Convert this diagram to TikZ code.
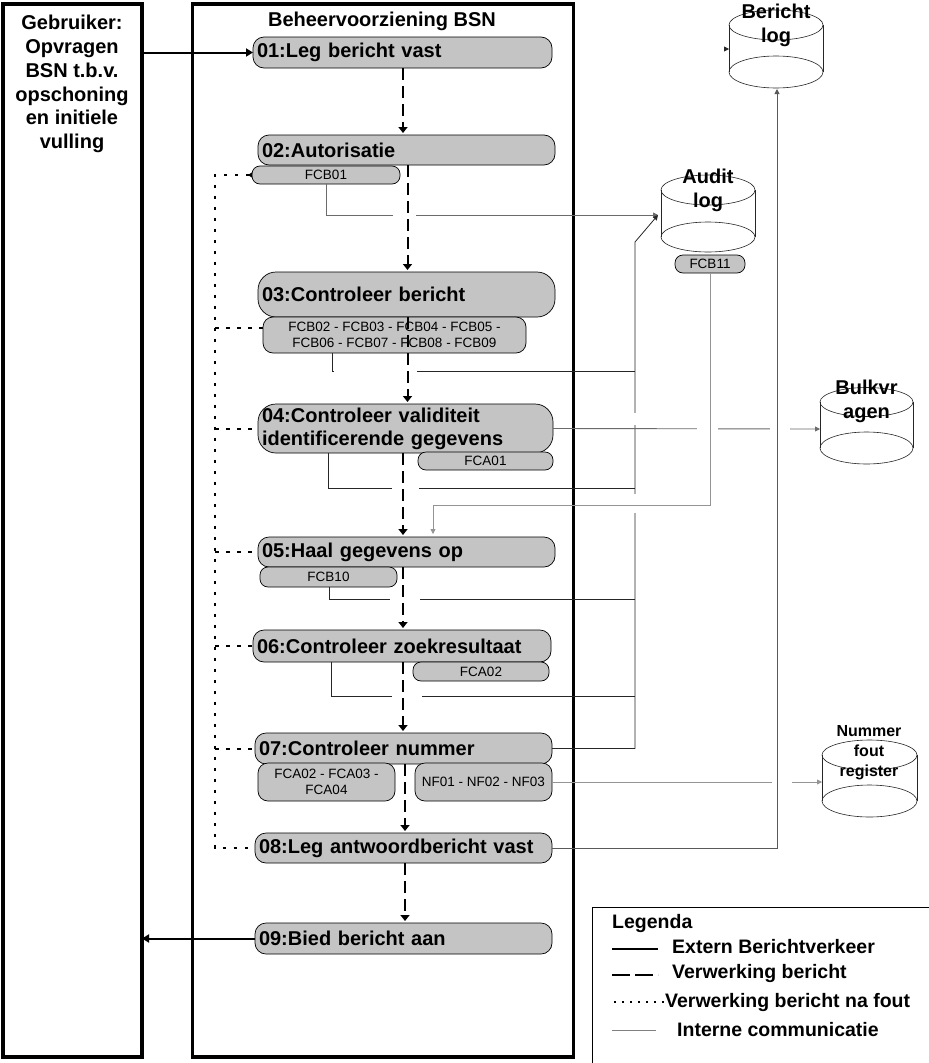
\documentclass[tikz,border=0pt]{standalone}
\usepackage{fontspec}
\setmainfont{Liberation Sans}
\usetikzlibrary{arrows.meta}
\definecolor{boxgray}{RGB}{196,196,196}
\begin{document}
\begin{tikzpicture}[x=1pt,y=-1pt,
  proc/.style={draw=black, line width=0.7pt, fill=boxgray, rounded corners=#1,
    font=\fontsize{20}{23}\selectfont\bfseries, align=left, inner xsep=4pt, inner ysep=0pt,
    anchor=north west, outer sep=0pt},
  proc/.default=11pt,
  sub/.style={draw=black, line width=0.7pt, fill=boxgray, rounded corners=#1,
    font=\fontsize{13.5}{16}\selectfont, align=center, inner sep=0pt,
    anchor=north west, outer sep=0pt},
  sub/.default=8pt,
  frame/.style={draw=black, line width=3.5pt, inner sep=0pt, outer sep=0pt, anchor=north west},
  ext/.style={line width=2pt, -{Triangle[width=8pt,length=7pt]}},
  flow/.style={line width=2pt, dash pattern=on 12pt off 6pt, -{Triangle[width=9pt,length=6pt]}, shorten >=2pt},
  err/.style={line width=2pt, dash pattern=on 3.5pt off 7.5pt},
  intl/.style={line width=0.8pt, draw=black!85},
  intm/.style={line width=0.9pt, draw=black!65},
  intg/.style={line width=0.9pt, draw=black!58},
  intg2/.style={line width=0.8pt, draw=black!42},
  tip/.style={-{Triangle[width=5pt,length=5pt]}},
  cyl/.style={line width=0.6pt, draw=black!85},
  dbtext/.style={font=\fontsize{20}{24}\selectfont\bfseries, align=center, inner sep=0pt},
  legtext/.style={font=\fontsize{19.5}{22}\selectfont\bfseries, anchor=west, inner sep=0pt},
]
\useasboundingbox (0,0) rectangle (929,1063);
\fill[white] (0,0) rectangle (929,1063);

% frames
\node[frame, minimum width=139pt, minimum height=1053pt] (gebr) at (3,4) {};
\node[frame, minimum width=381pt, minimum height=1053pt] (bsn) at (192.5,4) {};
\node[font=\fontsize{20}{23.8}\selectfont\bfseries, align=center, anchor=north, inner sep=0pt] (gebrt) at (72,15)
  {Gebruiker:\\Opvragen\\BSN t.b.v.\\opschoning\\en initiele\\vulling};
\node[font=\fontsize{20}{23}\selectfont\bfseries, inner sep=0pt] (title) at (382,21) {Beheervoorziening BSN};

% process steps
\node[proc, text width=291pt, minimum height=31pt] (p01) at (253,37) {01:Leg bericht vast};
\node[proc, text width=289pt, minimum height=30pt] (p02) at (258,135) {02:Autorisatie};
\node[proc=18pt, text width=289pt, minimum height=45pt] (p03) at (258,272) {03:Controleer bericht};
\node[proc=18pt, text width=287pt, minimum height=49pt] (p04) at (258,404) {04:Controleer validiteit\\identificerende gegevens};
\node[proc, text width=289pt, minimum height=30pt] (p05) at (258,537) {05:Haal gegevens op};
\node[proc, text width=290pt, minimum height=32pt] (p06) at (253,630) {06:Controleer zoekresultaat};
\node[proc, text width=289pt, minimum height=31pt] (p07) at (255,733) {07:Controleer nummer};
\node[proc, text width=289pt, minimum height=30pt] (p08) at (255,833) {08:Leg antwoordbericht vast};
\node[proc, text width=289pt, minimum height=31pt] (p09) at (255,923) {09:Bied bericht aan};

% sub boxes
\node[sub, minimum width=148pt, minimum height=18pt] (fcb01) at (252,166) {FCB01};
\node[sub=10pt, minimum width=263pt, minimum height=36pt] (fcb02) at (263,317) {FCB02 - FCB03 - FCB04 - FCB05 -\\FCB06 - FCB07 - FCB08 - FCB09};
\node[sub, minimum width=135pt, minimum height=18pt] (fca01) at (418,452) {FCA01};
\node[sub, minimum width=137pt, minimum height=20pt] (fcb10) at (260,567) {FCB10};
\node[sub, minimum width=136pt, minimum height=19pt] (fca02) at (413,662) {FCA02};
\node[sub=10pt, minimum width=137pt, minimum height=38pt] (fca234) at (258,763) {FCA02 - FCA03 -\\FCA04};
\node[sub=10pt, minimum width=137pt, minimum height=38pt] (nf) at (415,763) {NF01 - NF02 - NF03};

% databases
\draw[cyl] (776,25) ellipse [x radius=47pt, y radius=15pt];
\draw[cyl] (729,25) -- (729,72) (823,25) -- (823,72);
\draw[cyl] (776,72) ellipse [x radius=47pt, y radius=16pt];
\node[dbtext] (blogt) at (776,25) {Bericht\\log};
\coordinate (blog-s) at (777,89);
\coordinate (blog-w) at (729,49);

\draw[cyl] (708,190) ellipse [x radius=47pt, y radius=15pt];
\draw[cyl] (661,190) -- (661,237) (755,190) -- (755,237);
\draw[cyl] (708,237) ellipse [x radius=47pt, y radius=15pt];
\node[dbtext] (alogt) at (708,190) {Audit\\log};
\coordinate (alog-w) at (658,215);
\node[sub, minimum width=70pt, minimum height=18pt] (fcb11) at (675,255) {FCB11};

\draw[cyl] (866.5,402) ellipse [x radius=46.5pt, y radius=14.5pt];
\draw[cyl] (820,402) -- (820,448) (913,402) -- (913,448);
\draw[cyl] (866.5,448) ellipse [x radius=46.5pt, y radius=16pt];
\node[dbtext] (bulkt) at (866.5,401) {Bulkvr\\agen};
\coordinate (bulk-w) at (820,429);

\draw[cyl] (869.5,755) ellipse [x radius=47.5pt, y radius=15pt];
\draw[cyl] (822,755) -- (822,801) (917,755) -- (917,801);
\draw[cyl] (869.5,801) ellipse [x radius=47.5pt, y radius=16pt];
\node[dbtext, font=\fontsize{16}{20}\selectfont\bfseries] (nregt) at (869,753) {Nummer\\fout\\register};
\coordinate (nreg-w) at (822,782);

% internal communication
\coordinate (colTop) at (635,242);
\coordinate (j3) at (635,371);
\coordinate (j4) at (635,488);
\coordinate (j5) at (635,599);
\coordinate (j6) at (635,696);
\coordinate (k1) at (433,505);

\draw[intg, tip] (fcb01.south) |- (alog-w);
\draw[intl] ([xshift=69pt]fcb02.south west) |- (j3);
\draw[intl] ([xshift=70pt]p04.south west) |- (j4);
\draw[intl] ([xshift=69pt]fcb10.south west) |- (j5);
\draw[intl] ([xshift=78pt]p06.south west) |- (j6);
\draw[intl, tip] (p07.east) -| (colTop) -- (alog-w);

% line jumps
\fill[white] (393,211) rectangle (416,219);
\fill[white] (334,367) rectangle (417,375);
\fill[white] (392,484) rectangle (419,492);
\fill[white] (390,595) rectangle (420,603);
\fill[white] (392,692) rectangle (422,700);
\fill[white] (632,413) rectangle (638,425);
\fill[white] (632,494) rectangle (638,513);

\draw[intg, tip] (p04.east) -- (bulk-w);
\draw[intg2, tip] (nf.east) -- (nreg-w);
\fill[white] (697,426) rectangle (718,432);
\fill[white] (770,426) rectangle (790,432);
\fill[white] (772,779) rectangle (792,785);

\draw[intg2, tip, shorten >=3pt] (fcb11.south) |- (k1) -- (k1 |- p05.north);
\draw[intm, tip] (p08.east) -| (blog-s);
\draw[intl, tip] ([xshift=-4pt]blog-w) -- (blog-w);

% external messages
\draw[ext] (gebr.east |- p01.west) -- (p01.west);
\draw[ext] (p09.west) -- (gebr.east |- p09.west);

% processing flow
\coordinate (cA) at (403,0);
\coordinate (cB) at (407.5,0);
\coordinate (cC) at (405,0);
\draw[flow] (p01.south -| cA) -- (p02.north -| cA);
\draw[flow] (p02.south -| cB) -- (p03.north -| cB);
\draw[flow] (p03.south -| cB) -- (p04.north -| cB);
\draw[flow] (p04.south -| cA) -- (p05.north -| cA);
\draw[flow] (p05.south -| cA) -- (p06.north -| cA);
\draw[flow] (p06.south -| cA) -- (p07.north -| cA);
\draw[flow] (p07.south -| cC) -- (p08.north -| cC);
\draw[flow] (p08.south -| cC) -- (p09.north -| cC);

% error flow
\coordinate (ev) at (215,0);
\coordinate (e3) at ([yshift=7pt]fcb02.west);
\draw[err, {Triangle[reversed,width=5pt,length=4pt]}-] (fcb01.west) -| (ev |- p08.west) -- (p08.west);
\draw[err] (ev |- e3) -- (e3);
\draw[err] (ev |- p04.west) -- (p04.west);
\draw[err] (ev |- p05.west) -- (p05.west);
\draw[err] (ev |- p06.west) -- (p06.west);
\draw[err] (ev |- p07.west) -- (p07.west);

% legend
\draw[line width=0.8pt] (592,1063) -- (592,907) -- (929,907);
\node[legtext] (lg) at (612,923) {Legenda};
\draw[line width=2.5pt] (612,949) -- (658,949);
\node[legtext] (lg1) at (672,947) {Extern Berichtverkeer};
\draw[line width=2.2pt, dash pattern=on 18pt off 5pt] (612,975) -- (658,975);
\node[legtext] (lg2) at (672,973) {Verwerking bericht};
\draw[line width=1.3pt, dash pattern=on 1.5pt off 6.5pt] (614,1002) -- (664,1002);
\node[legtext] (lg3) at (665,1002) {Verwerking bericht na fout};
\draw[line width=0.8pt, black!50] (612,1030) -- (656,1030);
\node[legtext] (lg4) at (677,1030) {Interne communicatie};
\end{tikzpicture}
\end{document}
